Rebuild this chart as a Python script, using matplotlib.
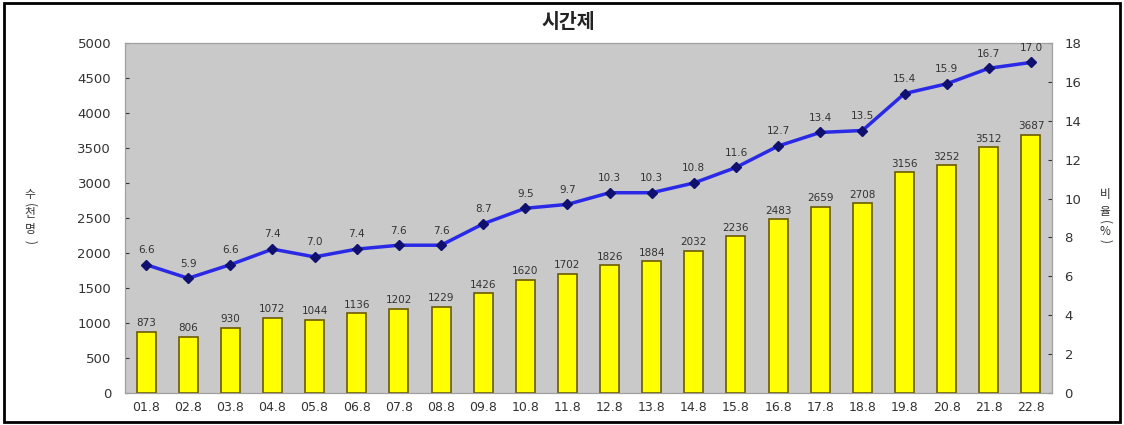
import matplotlib.pyplot as plt
from matplotlib.patches import Rectangle

plt.rcParams['font.family'] = ['DejaVu Sans', 'Noto Sans CJK KR']

# data
periods = ["01.8", "02.8", "03.8", "04.8", "05.8", "06.8", "07.8", "08.8", "09.8", "10.8", "11.8",
           "12.8", "13.8", "14.8", "15.8", "16.8", "17.8", "18.8", "19.8", "20.8", "21.8", "22.8"]
workers = [873, 806, 930, 1072, 1044, 1136, 1202, 1229, 1426, 1620, 1702,
           1826, 1884, 2032, 2236, 2483, 2659, 2708, 3156, 3252, 3512, 3687]
ratio = [6.6, 5.9, 6.6, 7.4, 7.0, 7.4, 7.6, 7.6, 8.7, 9.5, 9.7,
         10.3, 10.3, 10.8, 11.6, 12.7, 13.4, 13.5, 15.4, 15.9, 16.7, 17.0]
left_ticks = [0, 500, 1000, 1500, 2000, 2500, 3000, 3500, 4000, 4500, 5000]
right_ticks = [0, 2, 4, 6, 8, 10, 12, 14, 16, 18]

W, H = 1124, 425
fig = plt.figure(figsize=(W / 100, H / 100), dpi=100)
ax = fig.add_axes([125 / W, 1 - 393 / H, (1052 - 125) / W, (393 - 43) / H])
ax.set_facecolor("#c9c9c9")

x = list(range(len(periods)))
ax.bar(x, workers, width=0.45, color="#ffff00", edgecolor="#6b5a00", linewidth=1.2, zorder=2)
for xi, v in zip(x, workers):
    ax.text(xi, v + 50, str(v), ha="center", va="bottom", fontsize=7.5, color="#333333", zorder=4)

ax.set_xlim(-0.5, len(periods) - 0.5)
ax.set_ylim(0, 5000)
ax.set_yticks(left_ticks)
ax.set_xticks(x)
ax.set_xticklabels(periods)
ax.tick_params(axis="y", labelsize=9.5, colors="#333333", length=3, direction="in", pad=10)
ax.tick_params(axis="x", labelsize=9, colors="#333333", length=0, pad=6)

ax2 = ax.twinx()
ax2.plot(x, ratio, color="#2a2ae6", linewidth=2.5, marker="D", markersize=5.5,
         markerfacecolor="#10106e", markeredgecolor="#10106e", zorder=3)
for xi, v in zip(x, ratio):
    ax2.text(xi, v + 0.5, f"{v:.1f}", ha="center", va="bottom", fontsize=7.5, color="#333333", zorder=4)
ax2.set_ylim(0, 18)
ax2.set_yticks(right_ticks)
ax2.tick_params(axis="y", labelsize=9.5, colors="#333333", length=3, direction="in", pad=9)

for a in (ax, ax2):
    for s in a.spines.values():
        s.set_color("#a0a0a0")
        s.set_linewidth(0.8)

# vertical axis labels, one character at a time (parentheses turned sideways)
cjk = ['Noto Sans CJK KR', 'DejaVu Sans']
left_lab = [("수", 195, 0), ("(", 205, -90), ("천", 214, 0), ("명", 230, 0), (")", 242, -90)]
right_lab = [("비", 195, 0), ("율", 212, 0), ("(", 222, -90), ("%", 231, 0), (")", 241, -90)]
for xpix, lab in ((30, left_lab), (1105, right_lab)):
    for ch, y, rot in lab:
        fig.text(xpix / W, 1 - y / H, ch, ha="center", va="center", fontsize=8.5,
                 color="#333333", family=cjk, rotation=rot)

fig.text(568 / W, 1 - 22 / H, "시간제", ha="center", va="center", fontsize=14,
         fontweight="bold", color="#222222", family=cjk)

# outer frame
fig.patches.append(Rectangle((4 / W, 3 / H), 1 - 8 / W, 1 - 6 / H, transform=fig.transFigure,
                             fill=False, edgecolor="black", linewidth=2))

fig.savefig("out.png", dpi=100)
